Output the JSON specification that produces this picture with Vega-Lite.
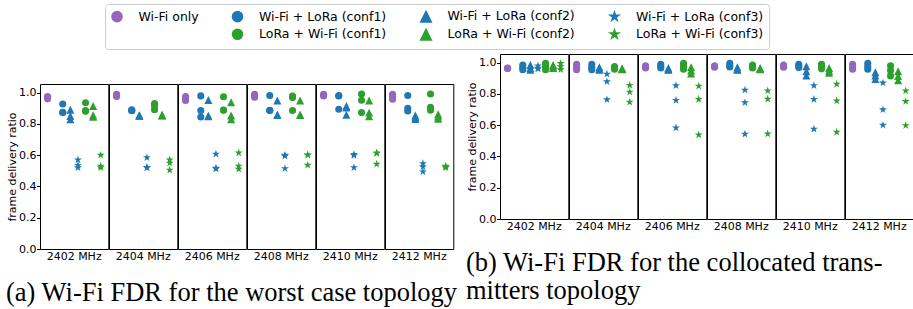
{
"$schema": "https://vega.github.io/schema/vega-lite/v6.json",
"padding": {"left": 6, "top": 3, "right": 0, "bottom": 0},
"hconcat": [
{
"title": {"text": "(a) Wi-Fi FDR for the worst case topology", "orient": "bottom", "anchor": "start"},
"spacing": 0,
"vconcat": [
{
"data": {"values": []},
"width": 1,
"height": 28.5,
"view": {"stroke": null},
"mark": {"type": "point", "opacity": 0},
"encoding": {}
},
{
"data": {"values": [
{"f":"2402 MHz","s":"Wi-Fi only","v":0.96},{"f":"2402 MHz","s":"Wi-Fi only","v":0.97},{"f":"2402 MHz","s":"Wi-Fi only","v":0.975},
{"f":"2402 MHz","s":"Wi-Fi + LoRa (conf1)","v":0.927},{"f":"2402 MHz","s":"Wi-Fi + LoRa (conf1)","v":0.874},{"f":"2402 MHz","s":"Wi-Fi + LoRa (conf1)","v":0.872},
{"f":"2402 MHz","s":"Wi-Fi + LoRa (conf2)","v":0.89},{"f":"2402 MHz","s":"Wi-Fi + LoRa (conf2)","v":0.85},{"f":"2402 MHz","s":"Wi-Fi + LoRa (conf2)","v":0.83},
{"f":"2402 MHz","s":"Wi-Fi + LoRa (conf3)","v":0.57},{"f":"2402 MHz","s":"Wi-Fi + LoRa (conf3)","v":0.535},{"f":"2402 MHz","s":"Wi-Fi + LoRa (conf3)","v":0.52},
{"f":"2402 MHz","s":"LoRa + Wi-Fi (conf1)","v":0.935},{"f":"2402 MHz","s":"LoRa + Wi-Fi (conf1)","v":0.885},{"f":"2402 MHz","s":"LoRa + Wi-Fi (conf1)","v":0.88},
{"f":"2402 MHz","s":"LoRa + Wi-Fi (conf2)","v":0.915},{"f":"2402 MHz","s":"LoRa + Wi-Fi (conf2)","v":0.855},{"f":"2402 MHz","s":"LoRa + Wi-Fi (conf2)","v":0.845},
{"f":"2402 MHz","s":"LoRa + Wi-Fi (conf3)","v":0.60},{"f":"2402 MHz","s":"LoRa + Wi-Fi (conf3)","v":0.53},{"f":"2402 MHz","s":"LoRa + Wi-Fi (conf3)","v":0.52},
{"f":"2404 MHz","s":"Wi-Fi only","v":0.975},{"f":"2404 MHz","s":"Wi-Fi only","v":0.985},{"f":"2404 MHz","s":"Wi-Fi only","v":0.99},
{"f":"2404 MHz","s":"Wi-Fi + LoRa (conf1)","v":0.89},{"f":"2404 MHz","s":"Wi-Fi + LoRa (conf1)","v":0.886},{"f":"2404 MHz","s":"Wi-Fi + LoRa (conf1)","v":0.884},
{"f":"2404 MHz","s":"Wi-Fi + LoRa (conf2)","v":0.855},{"f":"2404 MHz","s":"Wi-Fi + LoRa (conf2)","v":0.853},{"f":"2404 MHz","s":"Wi-Fi + LoRa (conf2)","v":0.852},
{"f":"2404 MHz","s":"Wi-Fi + LoRa (conf3)","v":0.585},{"f":"2404 MHz","s":"Wi-Fi + LoRa (conf3)","v":0.522},{"f":"2404 MHz","s":"Wi-Fi + LoRa (conf3)","v":0.519},
{"f":"2404 MHz","s":"LoRa + Wi-Fi (conf1)","v":0.93},{"f":"2404 MHz","s":"LoRa + Wi-Fi (conf1)","v":0.915},{"f":"2404 MHz","s":"LoRa + Wi-Fi (conf1)","v":0.89},
{"f":"2404 MHz","s":"LoRa + Wi-Fi (conf2)","v":0.858},{"f":"2404 MHz","s":"LoRa + Wi-Fi (conf2)","v":0.855},{"f":"2404 MHz","s":"LoRa + Wi-Fi (conf2)","v":0.853},
{"f":"2404 MHz","s":"LoRa + Wi-Fi (conf3)","v":0.57},{"f":"2404 MHz","s":"LoRa + Wi-Fi (conf3)","v":0.55},{"f":"2404 MHz","s":"LoRa + Wi-Fi (conf3)","v":0.505},
{"f":"2406 MHz","s":"Wi-Fi only","v":0.975},{"f":"2406 MHz","s":"Wi-Fi only","v":0.96},{"f":"2406 MHz","s":"Wi-Fi only","v":0.95},
{"f":"2406 MHz","s":"Wi-Fi + LoRa (conf1)","v":0.979},{"f":"2406 MHz","s":"Wi-Fi + LoRa (conf1)","v":0.885},{"f":"2406 MHz","s":"Wi-Fi + LoRa (conf1)","v":0.844},
{"f":"2406 MHz","s":"Wi-Fi + LoRa (conf2)","v":0.953},{"f":"2406 MHz","s":"Wi-Fi + LoRa (conf2)","v":0.852},{"f":"2406 MHz","s":"Wi-Fi + LoRa (conf2)","v":0.849},
{"f":"2406 MHz","s":"Wi-Fi + LoRa (conf3)","v":0.607},{"f":"2406 MHz","s":"Wi-Fi + LoRa (conf3)","v":0.517},{"f":"2406 MHz","s":"Wi-Fi + LoRa (conf3)","v":0.513},
{"f":"2406 MHz","s":"LoRa + Wi-Fi (conf1)","v":0.974},{"f":"2406 MHz","s":"LoRa + Wi-Fi (conf1)","v":0.889},{"f":"2406 MHz","s":"LoRa + Wi-Fi (conf1)","v":0.887},
{"f":"2406 MHz","s":"LoRa + Wi-Fi (conf2)","v":0.938},{"f":"2406 MHz","s":"LoRa + Wi-Fi (conf2)","v":0.853},{"f":"2406 MHz","s":"LoRa + Wi-Fi (conf2)","v":0.829},
{"f":"2406 MHz","s":"LoRa + Wi-Fi (conf3)","v":0.615},{"f":"2406 MHz","s":"LoRa + Wi-Fi (conf3)","v":0.53},{"f":"2406 MHz","s":"LoRa + Wi-Fi (conf3)","v":0.511},
{"f":"2408 MHz","s":"Wi-Fi only","v":0.99},{"f":"2408 MHz","s":"Wi-Fi only","v":0.978},{"f":"2408 MHz","s":"Wi-Fi only","v":0.97},
{"f":"2408 MHz","s":"Wi-Fi + LoRa (conf1)","v":0.981},{"f":"2408 MHz","s":"Wi-Fi + LoRa (conf1)","v":0.887},{"f":"2408 MHz","s":"Wi-Fi + LoRa (conf1)","v":0.885},
{"f":"2408 MHz","s":"Wi-Fi + LoRa (conf2)","v":0.949},{"f":"2408 MHz","s":"Wi-Fi + LoRa (conf2)","v":0.859},{"f":"2408 MHz","s":"Wi-Fi + LoRa (conf2)","v":0.857},
{"f":"2408 MHz","s":"Wi-Fi + LoRa (conf3)","v":0.60},{"f":"2408 MHz","s":"Wi-Fi + LoRa (conf3)","v":0.595},{"f":"2408 MHz","s":"Wi-Fi + LoRa (conf3)","v":0.515},
{"f":"2408 MHz","s":"LoRa + Wi-Fi (conf1)","v":0.978},{"f":"2408 MHz","s":"LoRa + Wi-Fi (conf1)","v":0.968},{"f":"2408 MHz","s":"LoRa + Wi-Fi (conf1)","v":0.885},
{"f":"2408 MHz","s":"LoRa + Wi-Fi (conf2)","v":0.949},{"f":"2408 MHz","s":"LoRa + Wi-Fi (conf2)","v":0.859},{"f":"2408 MHz","s":"LoRa + Wi-Fi (conf2)","v":0.857},
{"f":"2408 MHz","s":"LoRa + Wi-Fi (conf3)","v":0.603},{"f":"2408 MHz","s":"LoRa + Wi-Fi (conf3)","v":0.60},{"f":"2408 MHz","s":"LoRa + Wi-Fi (conf3)","v":0.536},
{"f":"2410 MHz","s":"Wi-Fi only","v":0.99},{"f":"2410 MHz","s":"Wi-Fi only","v":0.985},{"f":"2410 MHz","s":"Wi-Fi only","v":0.978},
{"f":"2410 MHz","s":"Wi-Fi + LoRa (conf1)","v":0.981},{"f":"2410 MHz","s":"Wi-Fi + LoRa (conf1)","v":0.978},{"f":"2410 MHz","s":"Wi-Fi + LoRa (conf1)","v":0.893},
{"f":"2410 MHz","s":"Wi-Fi + LoRa (conf2)","v":0.915},{"f":"2410 MHz","s":"Wi-Fi + LoRa (conf2)","v":0.905},{"f":"2410 MHz","s":"Wi-Fi + LoRa (conf2)","v":0.859},
{"f":"2410 MHz","s":"Wi-Fi + LoRa (conf3)","v":0.605},{"f":"2410 MHz","s":"Wi-Fi + LoRa (conf3)","v":0.598},{"f":"2410 MHz","s":"Wi-Fi + LoRa (conf3)","v":0.521},
{"f":"2410 MHz","s":"LoRa + Wi-Fi (conf1)","v":0.991},{"f":"2410 MHz","s":"LoRa + Wi-Fi (conf1)","v":0.951},{"f":"2410 MHz","s":"LoRa + Wi-Fi (conf1)","v":0.872},
{"f":"2410 MHz","s":"LoRa + Wi-Fi (conf2)","v":0.949},{"f":"2410 MHz","s":"LoRa + Wi-Fi (conf2)","v":0.872},{"f":"2410 MHz","s":"LoRa + Wi-Fi (conf2)","v":0.848},
{"f":"2410 MHz","s":"LoRa + Wi-Fi (conf3)","v":0.615},{"f":"2410 MHz","s":"LoRa + Wi-Fi (conf3)","v":0.612},{"f":"2410 MHz","s":"LoRa + Wi-Fi (conf3)","v":0.543},
{"f":"2412 MHz","s":"Wi-Fi only","v":0.99},{"f":"2412 MHz","s":"Wi-Fi only","v":0.975},{"f":"2412 MHz","s":"Wi-Fi only","v":0.958},
{"f":"2412 MHz","s":"Wi-Fi + LoRa (conf1)","v":0.981},{"f":"2412 MHz","s":"Wi-Fi + LoRa (conf1)","v":0.90},{"f":"2412 MHz","s":"Wi-Fi + LoRa (conf1)","v":0.882},
{"f":"2412 MHz","s":"Wi-Fi + LoRa (conf2)","v":0.853},{"f":"2412 MHz","s":"Wi-Fi + LoRa (conf2)","v":0.842},{"f":"2412 MHz","s":"Wi-Fi + LoRa (conf2)","v":0.831},
{"f":"2412 MHz","s":"Wi-Fi + LoRa (conf3)","v":0.547},{"f":"2412 MHz","s":"Wi-Fi + LoRa (conf3)","v":0.526},{"f":"2412 MHz","s":"Wi-Fi + LoRa (conf3)","v":0.494},
{"f":"2412 MHz","s":"LoRa + Wi-Fi (conf1)","v":0.991},{"f":"2412 MHz","s":"LoRa + Wi-Fi (conf1)","v":0.906},{"f":"2412 MHz","s":"LoRa + Wi-Fi (conf1)","v":0.887},
{"f":"2412 MHz","s":"LoRa + Wi-Fi (conf2)","v":0.861},{"f":"2412 MHz","s":"LoRa + Wi-Fi (conf2)","v":0.847},{"f":"2412 MHz","s":"LoRa + Wi-Fi (conf2)","v":0.833},
{"f":"2412 MHz","s":"LoRa + Wi-Fi (conf3)","v":0.53},{"f":"2412 MHz","s":"LoRa + Wi-Fi (conf3)","v":0.525},{"f":"2412 MHz","s":"LoRa + Wi-Fi (conf3)","v":0.52}
]},
"facet": {"column": {"field": "f", "type": "nominal", "header": {"title": null, "labelOrient": "bottom"}}},
"spacing": 0,
"bounds": "flush",
"spec": {
"width": 68.3, "height": 165,
"mark": {"type": "point", "filled": true, "opacity": 1, "size": 50},
"encoding": {
"x": {"field": "s", "type": "nominal", "axis": null, "scale": {"type": "point", "padding": 1.47, "domain": ["Wi-Fi only", "gap", "Wi-Fi + LoRa (conf1)", "Wi-Fi + LoRa (conf2)", "Wi-Fi + LoRa (conf3)", "LoRa + Wi-Fi (conf1)", "LoRa + Wi-Fi (conf2)", "LoRa + Wi-Fi (conf3)"]}},
"y": {"field": "v", "type": "quantitative", "scale": {"domain": [0, 1.055], "nice": false, "zero": false}, "axis": {"values": [0, 0.2, 0.4, 0.6, 0.8, 1.0], "format": ".1f", "title": "frame delivery ratio"}},
"color": {"field": "s", "type": "nominal", "scale": {"domain": ["Wi-Fi only", " ", "Wi-Fi + LoRa (conf1)", "LoRa + Wi-Fi (conf1)", "Wi-Fi + LoRa (conf2)", "LoRa + Wi-Fi (conf2)", "Wi-Fi + LoRa (conf3)", "LoRa + Wi-Fi (conf3)"], "range": ["#9467bd", "#ffffff", "#1f77b4", "#2ca02c", "#1f77b4", "#2ca02c", "#1f77b4", "#2ca02c"]}},
"shape": {"field": "s", "type": "nominal", "scale": {"domain": ["Wi-Fi only", " ", "Wi-Fi + LoRa (conf1)", "LoRa + Wi-Fi (conf1)", "Wi-Fi + LoRa (conf2)", "LoRa + Wi-Fi (conf2)", "Wi-Fi + LoRa (conf3)", "LoRa + Wi-Fi (conf3)"], "range": ["circle", "circle", "circle", "circle", "M0,-1.13L1.13,1.13L-1.13,1.13Z", "M0,-1.13L1.13,1.13L-1.13,1.13Z", "M0,-1.2L0.269,-0.371L1.141,-0.371L0.436,0.142L0.705,0.971L0,0.458L-0.705,0.971L-0.436,0.142L-1.141,-0.371L-0.269,-0.371Z", "M0,-1.2L0.269,-0.371L1.141,-0.371L0.436,0.142L0.705,0.971L0,0.458L-0.705,0.971L-0.436,0.142L-1.141,-0.371L-0.269,-0.371Z"]}}
}
}
}
]
},
{
"data": {"values": [
{"f":"2402 MHz","s":"Wi-Fi only","v":0.966},{"f":"2402 MHz","s":"Wi-Fi only","v":0.964},{"f":"2402 MHz","s":"Wi-Fi only","v":0.962},
{"f":"2402 MHz","s":"Wi-Fi + LoRa (conf1)","v":0.985},{"f":"2402 MHz","s":"Wi-Fi + LoRa (conf1)","v":0.97},{"f":"2402 MHz","s":"Wi-Fi + LoRa (conf1)","v":0.955},
{"f":"2402 MHz","s":"Wi-Fi + LoRa (conf2)","v":0.985},{"f":"2402 MHz","s":"Wi-Fi + LoRa (conf2)","v":0.965},{"f":"2402 MHz","s":"Wi-Fi + LoRa (conf2)","v":0.955},
{"f":"2402 MHz","s":"Wi-Fi + LoRa (conf3)","v":0.98},{"f":"2402 MHz","s":"Wi-Fi + LoRa (conf3)","v":0.965},{"f":"2402 MHz","s":"Wi-Fi + LoRa (conf3)","v":0.96},
{"f":"2402 MHz","s":"LoRa + Wi-Fi (conf1)","v":0.995},{"f":"2402 MHz","s":"LoRa + Wi-Fi (conf1)","v":0.975},{"f":"2402 MHz","s":"LoRa + Wi-Fi (conf1)","v":0.955},
{"f":"2402 MHz","s":"LoRa + Wi-Fi (conf2)","v":0.985},{"f":"2402 MHz","s":"LoRa + Wi-Fi (conf2)","v":0.975},{"f":"2402 MHz","s":"LoRa + Wi-Fi (conf2)","v":0.965},
{"f":"2402 MHz","s":"LoRa + Wi-Fi (conf3)","v":0.995},{"f":"2402 MHz","s":"LoRa + Wi-Fi (conf3)","v":0.975},{"f":"2402 MHz","s":"LoRa + Wi-Fi (conf3)","v":0.955},
{"f":"2404 MHz","s":"Wi-Fi only","v":0.99},{"f":"2404 MHz","s":"Wi-Fi only","v":0.97},{"f":"2404 MHz","s":"Wi-Fi only","v":0.955},
{"f":"2404 MHz","s":"Wi-Fi + LoRa (conf1)","v":0.99},{"f":"2404 MHz","s":"Wi-Fi + LoRa (conf1)","v":0.97},{"f":"2404 MHz","s":"Wi-Fi + LoRa (conf1)","v":0.955},
{"f":"2404 MHz","s":"Wi-Fi + LoRa (conf2)","v":0.97},{"f":"2404 MHz","s":"Wi-Fi + LoRa (conf2)","v":0.96},{"f":"2404 MHz","s":"Wi-Fi + LoRa (conf2)","v":0.955},
{"f":"2404 MHz","s":"Wi-Fi + LoRa (conf3)","v":0.927},{"f":"2404 MHz","s":"Wi-Fi + LoRa (conf3)","v":0.878},{"f":"2404 MHz","s":"Wi-Fi + LoRa (conf3)","v":0.763},
{"f":"2404 MHz","s":"LoRa + Wi-Fi (conf1)","v":0.975},{"f":"2404 MHz","s":"LoRa + Wi-Fi (conf1)","v":0.965},{"f":"2404 MHz","s":"LoRa + Wi-Fi (conf1)","v":0.958},
{"f":"2404 MHz","s":"LoRa + Wi-Fi (conf2)","v":0.962},{"f":"2404 MHz","s":"LoRa + Wi-Fi (conf2)","v":0.96},{"f":"2404 MHz","s":"LoRa + Wi-Fi (conf2)","v":0.958},
{"f":"2404 MHz","s":"LoRa + Wi-Fi (conf3)","v":0.855},{"f":"2404 MHz","s":"LoRa + Wi-Fi (conf3)","v":0.812},{"f":"2404 MHz","s":"LoRa + Wi-Fi (conf3)","v":0.748},
{"f":"2406 MHz","s":"Wi-Fi only","v":0.98},{"f":"2406 MHz","s":"Wi-Fi only","v":0.97},{"f":"2406 MHz","s":"Wi-Fi only","v":0.965},
{"f":"2406 MHz","s":"Wi-Fi + LoRa (conf1)","v":0.99},{"f":"2406 MHz","s":"Wi-Fi + LoRa (conf1)","v":0.975},{"f":"2406 MHz","s":"Wi-Fi + LoRa (conf1)","v":0.965},
{"f":"2406 MHz","s":"Wi-Fi + LoRa (conf2)","v":0.965},{"f":"2406 MHz","s":"Wi-Fi + LoRa (conf2)","v":0.958},{"f":"2406 MHz","s":"Wi-Fi + LoRa (conf2)","v":0.955},
{"f":"2406 MHz","s":"Wi-Fi + LoRa (conf3)","v":0.853},{"f":"2406 MHz","s":"Wi-Fi + LoRa (conf3)","v":0.759},{"f":"2406 MHz","s":"Wi-Fi + LoRa (conf3)","v":0.583},
{"f":"2406 MHz","s":"LoRa + Wi-Fi (conf1)","v":0.995},{"f":"2406 MHz","s":"LoRa + Wi-Fi (conf1)","v":0.975},{"f":"2406 MHz","s":"LoRa + Wi-Fi (conf1)","v":0.958},
{"f":"2406 MHz","s":"LoRa + Wi-Fi (conf2)","v":0.97},{"f":"2406 MHz","s":"LoRa + Wi-Fi (conf2)","v":0.95},{"f":"2406 MHz","s":"LoRa + Wi-Fi (conf2)","v":0.93},
{"f":"2406 MHz","s":"LoRa + Wi-Fi (conf3)","v":0.85},{"f":"2406 MHz","s":"LoRa + Wi-Fi (conf3)","v":0.765},{"f":"2406 MHz","s":"LoRa + Wi-Fi (conf3)","v":0.538},
{"f":"2408 MHz","s":"Wi-Fi only","v":0.98},{"f":"2408 MHz","s":"Wi-Fi only","v":0.975},{"f":"2408 MHz","s":"Wi-Fi only","v":0.97},
{"f":"2408 MHz","s":"Wi-Fi + LoRa (conf1)","v":0.995},{"f":"2408 MHz","s":"Wi-Fi + LoRa (conf1)","v":0.98},{"f":"2408 MHz","s":"Wi-Fi + LoRa (conf1)","v":0.972},
{"f":"2408 MHz","s":"Wi-Fi + LoRa (conf2)","v":0.97},{"f":"2408 MHz","s":"Wi-Fi + LoRa (conf2)","v":0.958},{"f":"2408 MHz","s":"Wi-Fi + LoRa (conf2)","v":0.955},
{"f":"2408 MHz","s":"Wi-Fi + LoRa (conf3)","v":0.825},{"f":"2408 MHz","s":"Wi-Fi + LoRa (conf3)","v":0.744},{"f":"2408 MHz","s":"Wi-Fi + LoRa (conf3)","v":0.543},
{"f":"2408 MHz","s":"LoRa + Wi-Fi (conf1)","v":0.985},{"f":"2408 MHz","s":"LoRa + Wi-Fi (conf1)","v":0.972},{"f":"2408 MHz","s":"LoRa + Wi-Fi (conf1)","v":0.965},
{"f":"2408 MHz","s":"LoRa + Wi-Fi (conf2)","v":0.965},{"f":"2408 MHz","s":"LoRa + Wi-Fi (conf2)","v":0.96},{"f":"2408 MHz","s":"LoRa + Wi-Fi (conf2)","v":0.957},
{"f":"2408 MHz","s":"LoRa + Wi-Fi (conf3)","v":0.82},{"f":"2408 MHz","s":"LoRa + Wi-Fi (conf3)","v":0.767},{"f":"2408 MHz","s":"LoRa + Wi-Fi (conf3)","v":0.545},
{"f":"2410 MHz","s":"Wi-Fi only","v":0.985},{"f":"2410 MHz","s":"Wi-Fi only","v":0.975},{"f":"2410 MHz","s":"Wi-Fi only","v":0.97},
{"f":"2410 MHz","s":"Wi-Fi + LoRa (conf1)","v":0.99},{"f":"2410 MHz","s":"Wi-Fi + LoRa (conf1)","v":0.978},{"f":"2410 MHz","s":"Wi-Fi + LoRa (conf1)","v":0.968},
{"f":"2410 MHz","s":"Wi-Fi + LoRa (conf2)","v":0.976},{"f":"2410 MHz","s":"Wi-Fi + LoRa (conf2)","v":0.944},{"f":"2410 MHz","s":"Wi-Fi + LoRa (conf2)","v":0.917},
{"f":"2410 MHz","s":"Wi-Fi + LoRa (conf3)","v":0.853},{"f":"2410 MHz","s":"Wi-Fi + LoRa (conf3)","v":0.765},{"f":"2410 MHz","s":"Wi-Fi + LoRa (conf3)","v":0.575},
{"f":"2410 MHz","s":"LoRa + Wi-Fi (conf1)","v":0.99},{"f":"2410 MHz","s":"LoRa + Wi-Fi (conf1)","v":0.975},{"f":"2410 MHz","s":"LoRa + Wi-Fi (conf1)","v":0.96},
{"f":"2410 MHz","s":"LoRa + Wi-Fi (conf2)","v":0.965},{"f":"2410 MHz","s":"LoRa + Wi-Fi (conf2)","v":0.95},{"f":"2410 MHz","s":"LoRa + Wi-Fi (conf2)","v":0.935},
{"f":"2410 MHz","s":"LoRa + Wi-Fi (conf3)","v":0.863},{"f":"2410 MHz","s":"LoRa + Wi-Fi (conf3)","v":0.756},{"f":"2410 MHz","s":"LoRa + Wi-Fi (conf3)","v":0.556},
{"f":"2412 MHz","s":"Wi-Fi only","v":0.99},{"f":"2412 MHz","s":"Wi-Fi only","v":0.97},{"f":"2412 MHz","s":"Wi-Fi only","v":0.958},
{"f":"2412 MHz","s":"Wi-Fi + LoRa (conf1)","v":0.995},{"f":"2412 MHz","s":"Wi-Fi + LoRa (conf1)","v":0.975},{"f":"2412 MHz","s":"Wi-Fi + LoRa (conf1)","v":0.958},
{"f":"2412 MHz","s":"Wi-Fi + LoRa (conf2)","v":0.938},{"f":"2412 MHz","s":"Wi-Fi + LoRa (conf2)","v":0.917},{"f":"2412 MHz","s":"Wi-Fi + LoRa (conf2)","v":0.895},
{"f":"2412 MHz","s":"Wi-Fi + LoRa (conf3)","v":0.87},{"f":"2412 MHz","s":"Wi-Fi + LoRa (conf3)","v":0.699},{"f":"2412 MHz","s":"Wi-Fi + LoRa (conf3)","v":0.60},
{"f":"2412 MHz","s":"LoRa + Wi-Fi (conf1)","v":0.98},{"f":"2412 MHz","s":"LoRa + Wi-Fi (conf1)","v":0.95},{"f":"2412 MHz","s":"LoRa + Wi-Fi (conf1)","v":0.915},
{"f":"2412 MHz","s":"LoRa + Wi-Fi (conf2)","v":0.944},{"f":"2412 MHz","s":"LoRa + Wi-Fi (conf2)","v":0.915},{"f":"2412 MHz","s":"LoRa + Wi-Fi (conf2)","v":0.887},
{"f":"2412 MHz","s":"LoRa + Wi-Fi (conf3)","v":0.82},{"f":"2412 MHz","s":"LoRa + Wi-Fi (conf3)","v":0.752},{"f":"2412 MHz","s":"LoRa + Wi-Fi (conf3)","v":0.598}
]},
"title": {"text": ["(b) Wi-Fi FDR for the collocated trans-", "mitters topology"], "orient": "bottom", "anchor": "start"},
"facet": {"column": {"field": "f", "type": "nominal", "header": {"title": null, "labelOrient": "bottom"}}},
"spacing": 0,
"bounds": "flush",
"spec": {
"width": 68.3, "height": 165,
"mark": {"type": "point", "filled": true, "opacity": 1, "size": 50},
"encoding": {
"x": {"field": "s", "type": "nominal", "axis": null, "scale": {"type": "point", "padding": 1.47, "domain": ["Wi-Fi only", "gap", "Wi-Fi + LoRa (conf1)", "Wi-Fi + LoRa (conf2)", "Wi-Fi + LoRa (conf3)", "LoRa + Wi-Fi (conf1)", "LoRa + Wi-Fi (conf2)", "LoRa + Wi-Fi (conf3)"]}},
"y": {"field": "v", "type": "quantitative", "scale": {"domain": [0, 1.055], "nice": false, "zero": false}, "axis": {"values": [0, 0.2, 0.4, 0.6, 0.8, 1.0], "format": ".1f", "title": "frame delivery ratio"}},
"color": {"field": "s", "type": "nominal", "scale": {"domain": ["Wi-Fi only", " ", "Wi-Fi + LoRa (conf1)", "LoRa + Wi-Fi (conf1)", "Wi-Fi + LoRa (conf2)", "LoRa + Wi-Fi (conf2)", "Wi-Fi + LoRa (conf3)", "LoRa + Wi-Fi (conf3)"], "range": ["#9467bd", "#ffffff", "#1f77b4", "#2ca02c", "#1f77b4", "#2ca02c", "#1f77b4", "#2ca02c"]}},
"shape": {"field": "s", "type": "nominal", "scale": {"domain": ["Wi-Fi only", " ", "Wi-Fi + LoRa (conf1)", "LoRa + Wi-Fi (conf1)", "Wi-Fi + LoRa (conf2)", "LoRa + Wi-Fi (conf2)", "Wi-Fi + LoRa (conf3)", "LoRa + Wi-Fi (conf3)"], "range": ["circle", "circle", "circle", "circle", "M0,-1.13L1.13,1.13L-1.13,1.13Z", "M0,-1.13L1.13,1.13L-1.13,1.13Z", "M0,-1.2L0.269,-0.371L1.141,-0.371L0.436,0.142L0.705,0.971L0,0.458L-0.705,0.971L-0.436,0.142L-1.141,-0.371L-0.269,-0.371Z", "M0,-1.2L0.269,-0.371L1.141,-0.371L0.436,0.142L0.705,0.971L0,0.458L-0.705,0.971L-0.436,0.142L-1.141,-0.371L-0.269,-0.371Z"]}}
}
}
}
],
"spacing": 8,
"resolve": {"scale": {"color": "shared", "shape": "shared"}},
"config": {
"font": "DejaVu Sans",
"view": {"stroke": "black", "strokeWidth": 1},
"axis": {"labelFont": "DejaVu Sans", "labelFontSize": 11, "labelColor": "black", "titleFont": "DejaVu Sans", "titleFontSize": 11, "titleFontWeight": "normal", "titleColor": "black", "tickColor": "black", "tickSize": 3.5, "labelPadding": 0.5, "titlePadding": 1.5, "domain": false, "grid": false},
"header": {"labelFont": "DejaVu Sans", "labelFontSize": 11, "labelColor": "black", "labelPadding": 2},
"legend": {"orient": "none", "legendX": 65, "legendY": -50, "columns": 4, "title": null, "symbolSize": 133, "labelFont": "DejaVu Sans", "labelFontSize": 12.5, "labelColor": "black", "columnPadding": 29.5, "rowPadding": -1.7, "labelOffset": 14.5, "padding": 5, "strokeColor": "#cccccc", "strokeWidth": 1, "cornerRadius": 3, "symbolOpacity": 1},
"title": {"font": "Liberation Serif", "fontSize": 26.5, "fontWeight": "normal", "color": "black", "offset": 18, "lineHeight": 28}
}
}
